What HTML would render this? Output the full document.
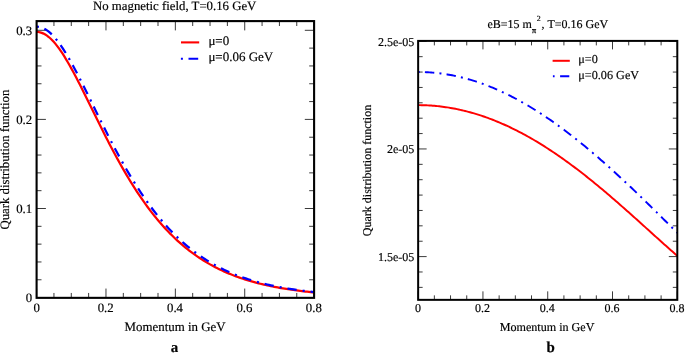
<!DOCTYPE html>
<html><head><meta charset="utf-8"><style>
html,body{margin:0;padding:0;background:#fff;}
svg{display:block;will-change:transform;opacity:0.999}
text{text-rendering:geometricPrecision;font-family:"Liberation Serif",serif;fill:#000;stroke:#000;stroke-width:0.18px}
.a{font-size:12.8px}
.b{font-size:12px}
</style></head><body>
<svg width="685" height="356" viewBox="0 0 685 356">
<defs>
<clipPath id="ca"><rect x="36.6" y="21.1" width="277.50" height="276.75"/></clipPath>
<clipPath id="cb"><rect x="418.15" y="40.9" width="259.15" height="258.95"/></clipPath>
</defs>

<!-- plot a -->
<path d="M36.60,297.85v-9.3M36.60,21.1v9.3M53.94,297.85v-4.9M53.94,21.1v4.9M71.29,297.85v-4.9M71.29,21.1v4.9M88.63,297.85v-4.9M88.63,21.1v4.9M105.97,297.85v-9.3M105.97,21.1v9.3M123.32,297.85v-4.9M123.32,21.1v4.9M140.66,297.85v-4.9M140.66,21.1v4.9M158.01,297.85v-4.9M158.01,21.1v4.9M175.35,297.85v-9.3M175.35,21.1v9.3M192.69,297.85v-4.9M192.69,21.1v4.9M210.04,297.85v-4.9M210.04,21.1v4.9M227.38,297.85v-4.9M227.38,21.1v4.9M244.73,297.85v-9.3M244.73,21.1v9.3M262.07,297.85v-4.9M262.07,21.1v4.9M279.41,297.85v-4.9M279.41,21.1v4.9M296.76,297.85v-4.9M296.76,21.1v4.9M314.10,297.85v-9.3M314.10,21.1v9.3M36.6,297.60h9.3M314.1,297.60h-9.3M36.6,279.78h4.9M314.1,279.78h-4.9M36.6,261.96h4.9M314.1,261.96h-4.9M36.6,244.14h4.9M314.1,244.14h-4.9M36.6,226.32h4.9M314.1,226.32h-4.9M36.6,208.50h9.3M314.1,208.50h-9.3M36.6,190.68h4.9M314.1,190.68h-4.9M36.6,172.86h4.9M314.1,172.86h-4.9M36.6,155.04h4.9M314.1,155.04h-4.9M36.6,137.22h4.9M314.1,137.22h-4.9M36.6,119.40h9.3M314.1,119.40h-9.3M36.6,101.58h4.9M314.1,101.58h-4.9M36.6,83.76h4.9M314.1,83.76h-4.9M36.6,65.94h4.9M314.1,65.94h-4.9M36.6,48.12h4.9M314.1,48.12h-4.9M36.6,30.30h9.3M314.1,30.30h-9.3" stroke="#000" stroke-width="0.78" fill="none"/>
<g clip-path="url(#ca)" fill="none" stroke-width="2.25">
<path d="M36.60,31.90 L38.33,32.00 L40.07,32.32 L41.80,32.85 L43.54,33.59 L45.27,34.53 L47.01,35.67 L48.74,37.00 L50.48,38.52 L52.21,40.22 L53.94,42.10 L55.68,44.13 L57.41,46.32 L59.15,48.66 L60.88,51.13 L62.62,53.74 L64.35,56.46 L66.08,59.29 L67.82,62.22 L69.55,65.24 L71.29,68.34 L73.02,71.52 L74.76,74.76 L76.49,78.07 L78.22,81.42 L79.96,84.82 L81.69,88.25 L83.43,91.72 L85.16,95.21 L86.90,98.72 L88.63,102.24 L90.37,105.77 L92.10,109.30 L93.83,112.83 L95.57,116.36 L97.30,119.87 L99.04,123.37 L100.77,126.86 L102.51,130.32 L104.24,133.76 L105.97,137.17 L107.71,140.56 L109.44,143.91 L111.18,147.23 L112.91,150.51 L114.65,153.76 L116.38,156.97 L118.12,160.14 L119.85,163.26 L121.58,166.35 L123.32,169.39 L125.05,172.38 L126.79,175.33 L128.52,178.23 L130.26,181.09 L131.99,183.89 L133.73,186.65 L135.46,189.36 L137.19,192.03 L138.93,194.64 L140.66,197.21 L142.40,199.73 L144.13,202.19 L145.87,204.61 L147.60,206.99 L149.33,209.31 L151.07,211.59 L152.80,213.82 L154.54,216.00 L156.27,218.13 L158.01,220.22 L159.74,222.27 L161.47,224.26 L163.21,226.22 L164.94,228.13 L166.68,229.99 L168.41,231.81 L170.15,233.59 L171.88,235.33 L173.62,237.03 L175.35,238.69 L177.08,240.31 L178.82,241.88 L180.55,243.42 L182.29,244.92 L184.02,246.39 L185.76,247.82 L187.49,249.21 L189.22,250.57 L190.96,251.89 L192.69,253.18 L194.43,254.44 L196.16,255.66 L197.90,256.85 L199.63,258.01 L201.37,259.14 L203.10,260.24 L204.83,261.32 L206.57,262.36 L208.30,263.38 L210.04,264.37 L211.77,265.33 L213.51,266.26 L215.24,267.18 L216.97,268.06 L218.71,268.92 L220.44,269.76 L222.18,270.58 L223.91,271.37 L225.65,272.14 L227.38,272.89 L229.12,273.62 L230.85,274.33 L232.58,275.02 L234.32,275.69 L236.05,276.35 L237.79,276.98 L239.52,277.59 L241.26,278.19 L242.99,278.77 L244.72,279.34 L246.46,279.89 L248.19,280.42 L249.93,280.94 L251.66,281.44 L253.40,281.93 L255.13,282.40 L256.87,282.87 L258.60,283.31 L260.33,283.75 L262.07,284.17 L263.80,284.58 L265.54,284.98 L267.27,285.37 L269.01,285.74 L270.74,286.11 L272.48,286.46 L274.21,286.80 L275.94,287.14 L277.68,287.46 L279.41,287.78 L281.15,288.08 L282.88,288.38 L284.62,288.67 L286.35,288.95 L288.08,289.22 L289.82,289.48 L291.55,289.74 L293.29,289.98 L295.02,290.22 L296.76,290.46 L298.49,290.68 L300.23,290.90 L301.96,291.12 L303.69,291.32 L305.43,291.52 L307.16,291.72 L308.90,291.91 L310.63,292.09 L312.37,292.27 L314.10,292.44" stroke="#f00"/>
<path d="M36.60,26.69 L38.33,26.79 L40.07,27.10 L41.80,27.62 L43.54,28.35 L45.27,29.27 L47.01,30.39 L48.74,31.70 L50.48,33.20 L52.21,34.87 L53.94,36.71 L55.68,38.72 L57.41,40.87 L59.15,43.18 L60.88,45.61 L62.62,48.18 L64.35,50.86 L66.08,53.66 L67.82,56.55 L69.55,59.54 L71.29,62.61 L73.02,65.75 L74.76,68.97 L76.49,72.24 L78.22,75.57 L79.96,78.94 L81.69,82.36 L83.43,85.80 L85.16,89.28 L86.90,92.77 L88.63,96.28 L90.37,99.81 L92.10,103.33 L93.83,106.86 L95.57,110.39 L97.30,113.91 L99.04,117.42 L100.77,120.92 L102.51,124.40 L104.24,127.86 L105.97,131.30 L107.71,134.71 L109.44,138.09 L111.18,141.44 L112.91,144.76 L114.65,148.05 L116.38,151.30 L118.12,154.51 L119.85,157.68 L121.58,160.82 L123.32,163.91 L125.05,166.96 L126.79,169.96 L128.52,172.92 L130.26,175.84 L131.99,178.71 L133.73,181.53 L135.46,184.31 L137.19,187.04 L138.93,189.72 L140.66,192.35 L142.40,194.94 L144.13,197.48 L145.87,199.97 L147.60,202.42 L149.33,204.81 L151.07,207.16 L152.80,209.47 L154.54,211.72 L156.27,213.93 L158.01,216.10 L159.74,218.22 L161.47,220.29 L163.21,222.32 L164.94,224.30 L166.68,226.24 L168.41,228.14 L170.15,229.99 L171.88,231.80 L173.62,233.57 L175.35,235.30 L177.08,236.99 L178.82,238.64 L180.55,240.25 L182.29,241.82 L184.02,243.35 L185.76,244.85 L187.49,246.31 L189.22,247.73 L190.96,249.12 L192.69,250.47 L194.43,251.79 L196.16,253.08 L197.90,254.33 L199.63,255.55 L201.37,256.74 L203.10,257.90 L204.83,259.03 L206.57,260.13 L208.30,261.20 L210.04,262.25 L211.77,263.26 L213.51,264.25 L215.24,265.21 L216.97,266.15 L218.71,267.06 L220.44,267.95 L222.18,268.81 L223.91,269.65 L225.65,270.47 L227.38,271.26 L229.12,272.04 L230.85,272.79 L232.58,273.52 L234.32,274.23 L236.05,274.92 L237.79,275.59 L239.52,276.24 L241.26,276.88 L242.99,277.50 L244.72,278.10 L246.46,278.68 L248.19,279.25 L249.93,279.80 L251.66,280.33 L253.40,280.85 L255.13,281.35 L256.87,281.85 L258.60,282.32 L260.33,282.78 L262.07,283.23 L263.80,283.67 L265.54,284.10 L267.27,284.51 L269.01,284.91 L270.74,285.30 L272.48,285.67 L274.21,286.04 L275.94,286.40 L277.68,286.74 L279.41,287.08 L281.15,287.40 L282.88,287.72 L284.62,288.02 L286.35,288.32 L288.08,288.61 L289.82,288.89 L291.55,289.16 L293.29,289.43 L295.02,289.69 L296.76,289.93 L298.49,290.18 L300.23,290.41 L301.96,290.64 L303.69,290.86 L305.43,291.07 L307.16,291.28 L308.90,291.48 L310.63,291.68 L312.37,291.87 L314.10,292.06" stroke="#00f" stroke-dasharray="2.1 5.82 9.32 6.04" stroke-dashoffset="-0.2"/>
</g>
<rect x="36.6" y="21.1" width="277.50" height="276.75" fill="none" stroke="#000" stroke-width="2.1"/>
<text class="a" x="174.7" y="9.5" text-anchor="middle">No magnetic field, T=0.16 GeV</text>
<g class="a" text-anchor="end">
<text x="32.2" y="34.8">0.3</text>
<text x="32.2" y="123.9">0.2</text>
<text x="32.2" y="212.9">0.1</text>
<text x="32.2" y="302.3">0</text>
</g>
<g class="a" text-anchor="middle">
<text x="36.8" y="311.55">0</text>
<text x="105.7" y="311.55">0.2</text>
<text x="175.0" y="311.55">0.4</text>
<text x="244.4" y="311.55">0.6</text>
<text x="313.8" y="311.55">0.8</text>
<text x="175.1" y="330.8" style="font-size:12.9px">Momentum in GeV</text>
<text x="174.6" y="352" style="font-size:15px;font-weight:bold">a</text>
</g>
<text class="a" text-anchor="middle" transform="translate(9.3,159.6) rotate(-90)">Quark distribution function</text>
<path d="M181,42.4H199.2" stroke="#f00" stroke-width="2.1"/>
<path d="M180.9,58.8h2M188.5,58.8H198.2" stroke="#00f" stroke-width="2.1"/>
<text class="a" x="208.4" y="45.2" style="font-size:13px">μ=0</text>
<text class="a" x="208.4" y="61.3" style="font-size:13px">μ=0.06 GeV</text>

<!-- plot b -->
<path d="M418.15,299.85v-8.5M418.15,40.9v8.5M434.35,299.85v-4.5M434.35,40.9v4.5M450.54,299.85v-4.5M450.54,40.9v4.5M466.74,299.85v-4.5M466.74,40.9v4.5M482.94,299.85v-8.5M482.94,40.9v8.5M499.13,299.85v-4.5M499.13,40.9v4.5M515.33,299.85v-4.5M515.33,40.9v4.5M531.53,299.85v-4.5M531.53,40.9v4.5M547.72,299.85v-8.5M547.72,40.9v8.5M563.92,299.85v-4.5M563.92,40.9v4.5M580.12,299.85v-4.5M580.12,40.9v4.5M596.32,299.85v-4.5M596.32,40.9v4.5M612.51,299.85v-8.5M612.51,40.9v8.5M628.71,299.85v-4.5M628.71,40.9v4.5M644.91,299.85v-4.5M644.91,40.9v4.5M661.10,299.85v-4.5M661.10,40.9v4.5M677.30,299.85v-8.5M677.30,40.9v8.5M418.15,41.30h8.5M677.3,41.30h-8.5M418.15,56.68h4.5M677.3,56.68h-4.5M418.15,72.06h4.5M677.3,72.06h-4.5M418.15,87.44h4.5M677.3,87.44h-4.5M418.15,102.81h4.5M677.3,102.81h-4.5M418.15,118.19h4.5M677.3,118.19h-4.5M418.15,133.57h4.5M677.3,133.57h-4.5M418.15,148.95h8.5M677.3,148.95h-8.5M418.15,164.33h4.5M677.3,164.33h-4.5M418.15,179.71h4.5M677.3,179.71h-4.5M418.15,195.09h4.5M677.3,195.09h-4.5M418.15,210.46h4.5M677.3,210.46h-4.5M418.15,225.84h4.5M677.3,225.84h-4.5M418.15,241.22h4.5M677.3,241.22h-4.5M418.15,256.60h8.5M677.3,256.60h-8.5M418.15,271.98h4.5M677.3,271.98h-4.5M418.15,287.36h4.5M677.3,287.36h-4.5" stroke="#000" stroke-width="0.78" fill="none"/>
<g clip-path="url(#cb)" fill="none" stroke-width="1.95">
<path d="M418.15,105.14 L419.77,105.15 L421.39,105.17 L423.01,105.21 L424.63,105.26 L426.25,105.32 L427.87,105.39 L429.49,105.49 L431.11,105.59 L432.73,105.71 L434.35,105.84 L435.97,105.99 L437.59,106.15 L439.21,106.32 L440.83,106.51 L442.45,106.71 L444.06,106.93 L445.68,107.16 L447.30,107.40 L448.92,107.66 L450.54,107.93 L452.16,108.21 L453.78,108.51 L455.40,108.83 L457.02,109.15 L458.64,109.49 L460.26,109.85 L461.88,110.21 L463.50,110.60 L465.12,110.99 L466.74,111.40 L468.36,111.82 L469.98,112.26 L471.60,112.71 L473.22,113.17 L474.84,113.65 L476.46,114.14 L478.08,114.64 L479.70,115.16 L481.32,115.69 L482.94,116.23 L484.56,116.79 L486.18,117.36 L487.80,117.94 L489.42,118.54 L491.04,119.15 L492.66,119.78 L494.28,120.41 L495.89,121.06 L497.51,121.73 L499.13,122.40 L500.75,123.09 L502.37,123.79 L503.99,124.51 L505.61,125.24 L507.23,125.98 L508.85,126.73 L510.47,127.50 L512.09,128.28 L513.71,129.07 L515.33,129.87 L516.95,130.69 L518.57,131.52 L520.19,132.36 L521.81,133.21 L523.43,134.08 L525.05,134.96 L526.67,135.85 L528.29,136.75 L529.91,137.67 L531.53,138.59 L533.15,139.53 L534.77,140.48 L536.39,141.45 L538.01,142.42 L539.63,143.41 L541.25,144.40 L542.87,145.41 L544.49,146.43 L546.11,147.46 L547.72,148.51 L549.34,149.56 L550.96,150.63 L552.58,151.70 L554.20,152.79 L555.82,153.88 L557.44,154.99 L559.06,156.11 L560.68,157.24 L562.30,158.38 L563.92,159.53 L565.54,160.69 L567.16,161.86 L568.78,163.04 L570.40,164.23 L572.02,165.43 L573.64,166.63 L575.26,167.85 L576.88,169.08 L578.50,170.32 L580.12,171.56 L581.74,172.82 L583.36,174.08 L584.98,175.35 L586.60,176.63 L588.22,177.92 L589.84,179.22 L591.46,180.52 L593.08,181.83 L594.70,183.15 L596.32,184.48 L597.94,185.82 L599.55,187.16 L601.17,188.51 L602.79,189.86 L604.41,191.23 L606.03,192.60 L607.65,193.97 L609.27,195.36 L610.89,196.74 L612.51,198.14 L614.13,199.54 L615.75,200.94 L617.37,202.35 L618.99,203.77 L620.61,205.18 L622.23,206.61 L623.85,208.04 L625.47,209.47 L627.09,210.91 L628.71,212.35 L630.33,213.79 L631.95,215.23 L633.57,216.68 L635.19,218.14 L636.81,219.59 L638.43,221.05 L640.05,222.50 L641.67,223.96 L643.29,225.42 L644.91,226.89 L646.53,228.35 L648.15,229.81 L649.77,231.27 L651.38,232.74 L653.00,234.20 L654.62,235.66 L656.24,237.12 L657.86,238.58 L659.48,240.04 L661.10,241.50 L662.72,242.95 L664.34,244.40 L665.96,245.85 L667.58,247.29 L669.20,248.73 L670.82,250.17 L672.44,251.60 L674.06,253.03 L675.68,254.45 L677.30,255.87" stroke="#f00"/>
<path d="M418.15,72.00 L419.77,72.00 L421.39,72.03 L423.01,72.07 L424.63,72.12 L426.25,72.19 L427.87,72.27 L429.49,72.37 L431.11,72.48 L432.73,72.61 L434.35,72.75 L435.97,72.91 L437.59,73.08 L439.21,73.27 L440.83,73.47 L442.45,73.69 L444.06,73.92 L445.68,74.17 L447.30,74.43 L448.92,74.71 L450.54,75.01 L452.16,75.31 L453.78,75.63 L455.40,75.97 L457.02,76.32 L458.64,76.69 L460.26,77.07 L461.88,77.47 L463.50,77.88 L465.12,78.30 L466.74,78.74 L468.36,79.20 L469.98,79.66 L471.60,80.15 L473.22,80.65 L474.84,81.16 L476.46,81.68 L478.08,82.22 L479.70,82.78 L481.32,83.35 L482.94,83.93 L484.56,84.53 L486.18,85.14 L487.80,85.77 L489.42,86.40 L491.04,87.06 L492.66,87.72 L494.28,88.41 L495.89,89.10 L497.51,89.81 L499.13,90.53 L500.75,91.27 L502.37,92.02 L503.99,92.78 L505.61,93.55 L507.23,94.34 L508.85,95.14 L510.47,95.96 L512.09,96.79 L513.71,97.63 L515.33,98.49 L516.95,99.35 L518.57,100.23 L520.19,101.13 L521.81,102.03 L523.43,102.95 L525.05,103.88 L526.67,104.83 L528.29,105.78 L529.91,106.75 L531.53,107.73 L533.15,108.72 L534.77,109.73 L536.39,110.75 L538.01,111.77 L539.63,112.82 L541.25,113.87 L542.87,114.93 L544.49,116.01 L546.11,117.09 L547.72,118.19 L549.34,119.30 L550.96,120.42 L552.58,121.55 L554.20,122.70 L555.82,123.85 L557.44,125.01 L559.06,126.19 L560.68,127.37 L562.30,128.57 L563.92,129.78 L565.54,130.99 L567.16,132.22 L568.78,133.46 L570.40,134.71 L572.02,135.96 L573.64,137.23 L575.26,138.50 L576.88,139.79 L578.50,141.09 L580.12,142.39 L581.74,143.70 L583.36,145.03 L584.98,146.36 L586.60,147.70 L588.22,149.05 L589.84,150.41 L591.46,151.77 L593.08,153.15 L594.70,154.53 L596.32,155.92 L597.94,157.32 L599.55,158.73 L601.17,160.14 L602.79,161.56 L604.41,162.99 L606.03,164.43 L607.65,165.88 L609.27,167.33 L610.89,168.79 L612.51,170.25 L614.13,171.72 L615.75,173.20 L617.37,174.69 L618.99,176.18 L620.61,177.68 L622.23,179.18 L623.85,180.69 L625.47,182.21 L627.09,183.73 L628.71,185.26 L630.33,186.79 L631.95,188.32 L633.57,189.87 L635.19,191.41 L636.81,192.97 L638.43,194.52 L640.05,196.08 L641.67,197.65 L643.29,199.22 L644.91,200.79 L646.53,202.37 L648.15,203.95 L649.77,205.54 L651.38,207.13 L653.00,208.72 L654.62,210.31 L656.24,211.91 L657.86,213.51 L659.48,215.11 L661.10,216.72 L662.72,218.33 L664.34,219.94 L665.96,221.55 L667.58,223.17 L669.20,224.78 L670.82,226.40 L672.44,228.02 L674.06,229.64 L675.68,231.26 L677.30,232.88" stroke="#00f" stroke-dasharray="2 5.2 9.4 5.2" stroke-dashoffset="0.45"/>
</g>
<rect x="418.15" y="40.9" width="259.15" height="258.95" fill="none" stroke="#000" stroke-width="2"/>
<text class="b" x="487.5" y="27.5">eB=15 m<tspan style="font-size:8.2px;stroke-width:0.3px" dy="5">π</tspan><tspan style="font-size:7.9px" dy="-11.5" dx="0.6">2</tspan><tspan dy="6.5" dx="0.8">, T=0.16 GeV</tspan></text>
<g class="b" text-anchor="end">
<text x="414.3" y="45.65">2.5e-05</text>
<text x="414.3" y="153.2">2e-05</text>
<text x="414.3" y="260.95">1.5e-05</text>
</g>
<g class="b" text-anchor="middle">
<text x="417.9" y="312.45">0</text>
<text x="482.5" y="312.45">0.2</text>
<text x="547.3" y="312.45">0.4</text>
<text x="612.1" y="312.45">0.6</text>
<text x="676.9" y="312.45">0.8</text>
<text x="547.1" y="330.8" style="font-size:12.1px">Momentum in GeV</text>
<text x="550.7" y="352.4" style="font-size:15px;font-weight:bold">b</text>
</g>
<text class="b" text-anchor="middle" transform="translate(371.4,170.5) rotate(-90)">Quark distribution function</text>
<path d="M552.6,60.8H569.8" stroke="#f00" stroke-width="2"/>
<path d="M552.9,76.2h1.7M560.1,76.2H569.3" stroke="#00f" stroke-width="2"/>
<text class="b" x="578.3" y="63.4" style="font-size:12.2px">μ=0</text>
<text class="b" x="578.3" y="78.55" style="font-size:12.2px">μ=0.06 GeV</text>
</svg>
</body></html>
